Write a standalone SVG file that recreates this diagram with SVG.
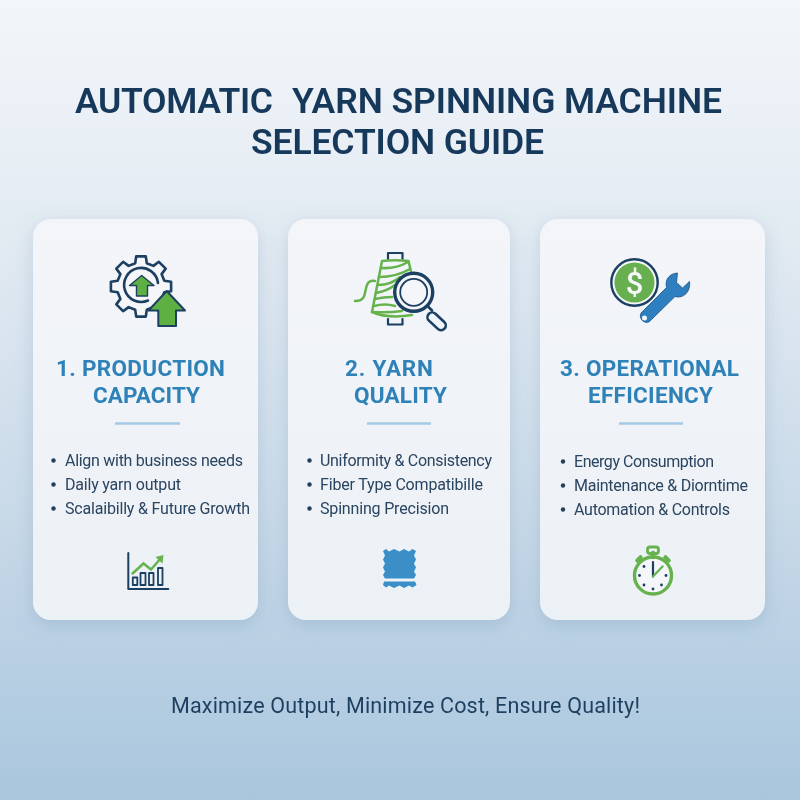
<svg xmlns="http://www.w3.org/2000/svg" width="800" height="800" viewBox="0 0 800 800">
<defs>
<linearGradient id="bg" x1="0" y1="0" x2="0" y2="1"><stop offset="0" stop-color="#f2f6f9"/><stop offset="0.3" stop-color="#e2eaf2"/><stop offset="0.65" stop-color="#c8d9e8"/><stop offset="1" stop-color="#a9c6de"/></linearGradient>
<linearGradient id="card" x1="0" y1="0" x2="0" y2="1"><stop offset="0" stop-color="#f3f5f9"/><stop offset="1" stop-color="#ecf1f6"/></linearGradient>
<filter id="sh" x="-15%" y="-10%" width="130%" height="120%"><feDropShadow dx="0" dy="5" stdDeviation="9" flood-color="#5f86a8" flood-opacity="0.25"/></filter>
<filter id="soft" x="-5%" y="-5%" width="110%" height="110%"><feGaussianBlur stdDeviation="0.4"/></filter>
</defs>
<style>
text{font-family:Roboto,"Liberation Sans",sans-serif}
.card{fill:url(#card);filter:url(#sh)}
.title{font-size:35.500px;font-weight:600;fill:#17375a}
.head{font-size:22.500px;font-weight:700;fill:#2f82b8}
.item{font-size:16px;fill:#2a4460}
.foot{font-size:21.500px;fill:#1f3f5e}
.rule{stroke:#a6c9e4;stroke-width:2.400}
.dot{fill:#233f5c}
.navy{fill:none;stroke:#1d3f62;stroke-width:2.600;stroke-linejoin:round;stroke-linecap:round}
.thread{fill:none;stroke:#66b34e;stroke-width:2.500;stroke-linecap:round}
.green{fill:#5fb043;stroke:#1d3f62;stroke-width:2;stroke-linejoin:round}
</style>
<rect width="800" height="800" fill="url(#bg)"/>
<g id="title" filter="url(#soft)">
<text class="title" x="75" y="112.500" textLength="198" lengthAdjust="spacing">AUTOMATIC</text>
<text class="title" x="292" y="112.500" textLength="430" lengthAdjust="spacing">YARN SPINNING MACHINE</text>
<text class="title" x="251" y="153.500" textLength="293" lengthAdjust="spacing">SELECTION GUIDE</text>
</g>
<g id="card-1">
<rect class="card" x="33" y="219" width="225" height="401" rx="18"/>
<g filter="url(#soft)">
<path class="navy" style="fill:#f4f6f9" transform="translate(141,286.500)" d="M23.300-5.800L30.100-4.800L30.100 4.800L23.300 5.800L20.600 12.400L24.700 17.900L17.900 24.700L12.400 20.600L5.800 23.300L4.800 30.100L-4.800 30.100L-5.800 23.300L-12.400 20.600L-17.900 24.700L-24.700 17.900L-20.600 12.400L-23.300 5.800L-30.100 4.800L-30.100-4.800L-23.300-5.800L-20.600-12.400L-24.700-17.900L-17.900-24.700L-12.400-20.600L-5.800-23.300L-4.800-30.100L4.800-30.100L5.800-23.300L12.400-20.600L17.900-24.700L24.700-17.900L20.600-12.400Z"/>
<path class="navy" d="M158 283A17 17 0 1 0 148 300.500"/>
<path class="green" style="stroke-width:1.400" d="M141.700 275.500L129.500 285.500H136.500V296H147.500V285.500H154Z"/>
<path class="green" d="M166.700 291L148.500 310.500H158.300V326H176V310.500H185Z"/>
</g>
<g filter="url(#soft)">
<text class="head" x="56" y="376" textLength="169" lengthAdjust="spacing">1. PRODUCTION</text>
<text class="head" x="93" y="403" textLength="107" lengthAdjust="spacing">CAPACITY</text>
<line class="rule" x1="115" y1="423.500" x2="180" y2="423.500"/>
<circle class="dot" cx="53.500" cy="460.500" r="2.200"/>
<circle class="dot" cx="53.500" cy="484.500" r="2.200"/>
<circle class="dot" cx="53.500" cy="508.500" r="2.200"/>
<text class="item" x="65" y="466" textLength="178" lengthAdjust="spacing">Align with business needs</text>
<text class="item" x="65" y="490" textLength="116" lengthAdjust="spacing">Daily yarn output</text>
<text class="item" x="65" y="514" textLength="185" lengthAdjust="spacing">Scalaibilly &amp; Future Growth</text>
</g>
<g filter="url(#soft)">
<path class="navy" style="stroke-width:2" d="M128.300 553V589H168.300"/>
<path class="navy" style="stroke-width:1.800" d="M132.800 577.500h4.500v7.500h-4.500zM140.500 573h5v12h-5zM149 573h4.500v12H149zM158 568h4.500v17H158z"/>
<path class="thread" d="M132.500 573.500L143.500 563.500L151 569.500L161 558"/>
<path fill="#66b34e" d="M155.500 557L163.500 555L162.500 563.500Z"/>
</g>
</g>
<g id="card-2">
<rect class="card" x="288" y="219" width="222" height="401" rx="18"/>
<g filter="url(#soft)">
<path class="navy" style="stroke-width:2.200" d="M388 259V253H402.500V259M388 319V324.500H402.500V319"/>
<path class="thread" d="M382 261Q395 259.500 408.500 261L412 276M382 261L372 312Q388 319 412 315"/>
<path class="thread" d="M381 268Q396 269 408 262M379 277Q396 277 410 269M378 285Q391 285 400 277M376 293Q387 291 395 285M375 299Q383 297 392 297M374 306Q385 303 395 306M373 312Q388 313 402 311"/>
<path class="thread" d="M375 281Q369 280 367 285C364 292 367 301 355 301"/>
<circle cx="413.700" cy="292.300" r="19" fill="#f4f6f9" stroke="#1d3f62" stroke-width="3.400"/>
<circle cx="413.700" cy="292.300" r="13.500" fill="none" stroke="#1d3f62" stroke-width="1.800"/>
<path class="navy" style="stroke-width:2.600" d="M427.500 306L432 310.500"/>
<rect class="navy" x="432" y="310.500" width="21.500" height="9.500" rx="4.700" style="stroke-width:2.600" transform="rotate(43 432 310.500)"/>
</g>
<g filter="url(#soft)">
<text class="head" x="345" y="376" textLength="88" lengthAdjust="spacing">2. YARN</text>
<text class="head" x="354" y="403" textLength="93" lengthAdjust="spacing">QUALITY</text>
<line class="rule" x1="367" y1="423.500" x2="431" y2="423.500"/>
<circle class="dot" cx="309.500" cy="460.500" r="2.200"/>
<circle class="dot" cx="309.500" cy="484.500" r="2.200"/>
<circle class="dot" cx="309.500" cy="508.500" r="2.200"/>
<text class="item" x="320" y="466" textLength="172" lengthAdjust="spacing">Uniformity &amp; Consistency</text>
<text class="item" x="320" y="490" textLength="163" lengthAdjust="spacing">Fiber Type Compatibille</text>
<text class="item" x="320" y="514" textLength="129" lengthAdjust="spacing">Spinning Precision</text>
</g>
<path fill="#3b8ec6" filter="url(#soft)" d="M383 551L386 549L389 551.500L394 549L399.500 551.500L404 549L409 551.500L412.500 549L416 551L414 555.500L416 559.500L414 563.500L416 567.500L414 571.500L416 575L414 578.500H385L383 575L385 571.500L383 567.500L385 563.500L383 559.500L385 555.500ZM384 581.500H415L416.500 585L412.500 587.500L409 585.500L404 588L399.500 585.500L394 588L389 585.500L386 587.500L383 585Z"/>
</g>
<g id="card-3">
<rect class="card" x="540" y="219" width="225" height="401" rx="18"/>
<g filter="url(#soft)">
<circle cx="634.500" cy="282.500" r="23.200" fill="#f4f6f9" stroke="#1d3f62" stroke-width="2.400"/>
<circle cx="634.500" cy="282.500" r="20" fill="#67b04f"/>
<text x="634.500" y="293.500" text-anchor="middle" style="font-size:31px;font-weight:500;fill:#f6f8fa">$</text>
<path fill="#2f7fbf" stroke="#1d4f80" stroke-width="0.800" stroke-linejoin="round" d="M677.500 273C670 273.500 664.500 279 666.500 287.500L641 313A6.500 6.500 0 0 0 649 322L675 296.500C683 299 691 292 689.500 281.500L682.500 288L676.500 282.500Z"/>
<circle cx="644.500" cy="318" r="2.500" fill="#f4f6f9"/>
</g>
<g filter="url(#soft)">
<text class="head" x="560" y="376" textLength="179" lengthAdjust="spacing">3. OPERATIONAL</text>
<text class="head" x="588" y="403" textLength="125" lengthAdjust="spacing">EFFICIENCY</text>
<line class="rule" x1="619" y1="423.500" x2="683" y2="423.500"/>
<circle class="dot" cx="563" cy="461.500" r="2.200"/>
<circle class="dot" cx="563" cy="485.500" r="2.200"/>
<circle class="dot" cx="563" cy="509.500" r="2.200"/>
<text class="item" x="574" y="467" textLength="140" lengthAdjust="spacing">Energy Consumption</text>
<text class="item" x="574" y="491" textLength="174" lengthAdjust="spacing">Maintenance &amp; Diorntime</text>
<text class="item" x="574" y="515" textLength="156" lengthAdjust="spacing">Automation &amp; Controls</text>
</g>
<g filter="url(#soft)">
<circle cx="653" cy="575.500" r="18.500" fill="#f4f6f9" stroke="#66b34e" stroke-width="3.400"/>
<rect x="647.500" y="547" width="11" height="6.500" rx="2.500" fill="none" stroke="#66b34e" stroke-width="2.800"/>
<path d="M653 553V557M637.500 560.500L640.500 557.500M668.500 560.500L665.500 557.500" fill="none" stroke="#66b34e" stroke-width="4.500" stroke-linecap="round"/>
<path d="M653 576.500V562" stroke="#1d3f62" stroke-width="2.200" fill="none" stroke-linecap="round"/>
<path d="M653 576.500L662.700 566.300" stroke="#66b34e" stroke-width="2.200" fill="none" stroke-linecap="round"/>
<g fill="#1d3f62"><circle cx="644" cy="566.500" r="1.400"/><circle cx="639.500" cy="575.500" r="1.400"/><circle cx="666" cy="575.500" r="1.400"/><circle cx="644" cy="585" r="1.400"/><circle cx="661.500" cy="585" r="1.400"/><circle cx="653" cy="589" r="1.400"/></g>
</g>
</g>
<g filter="url(#soft)"><text id="footer" class="foot" x="171" y="713" textLength="469" lengthAdjust="spacing">Maximize Output, Minimize Cost, Ensure Quality!</text></g>
</svg>
